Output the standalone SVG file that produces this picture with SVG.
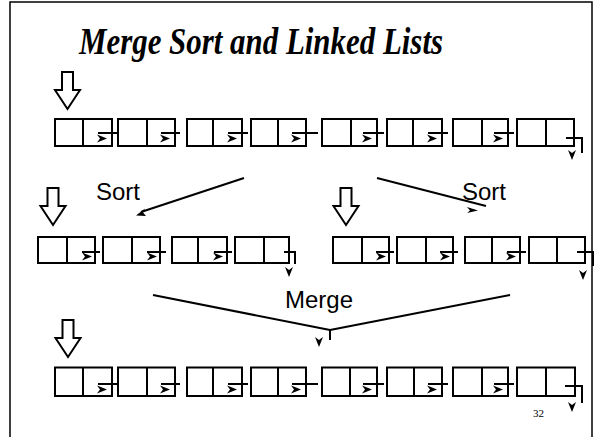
<svg xmlns="http://www.w3.org/2000/svg" xmlns:xlink="http://www.w3.org/1999/xlink" width="597" height="437" viewBox="0 0 597 437">
  <style>
    .frame { fill: none; stroke: #000; stroke-width: 1.5; }
    .box { fill: #fff; stroke: #000; stroke-width: 2; }
    .div { stroke: #000; stroke-width: 2; }
    .wire { fill: none; stroke: #000; stroke-width: 2; }
    .flow { fill: none; stroke: #000; stroke-width: 2; }
    .head { fill: #000; stroke: none; }
    .block { fill: #fff; stroke: #000; stroke-width: 2; stroke-linejoin: miter; }
    .title { font-family: "Liberation Serif", "Times New Roman", serif; font-size: 37px; font-weight: bold; font-style: italic; fill: #000; }
    .label { font-family: "Liberation Sans", Arial, sans-serif; font-size: 24px; fill: #000; }
    .page { font-family: "Liberation Serif", "Times New Roman", serif; font-size: 11px; fill: #000; }
  </style>
  <defs>
    <!-- small filled dart pointing right (tip at x=10) -->
    <path id="dartR" d="M0,0 L10,4 L0,8 L3,4 Z"/>
    <!-- small filled dart pointing down (tip at y=10) -->
    <path id="dartD" d="M0,0 L4,3 L8,0 L4,10 Z"/>
    <!-- hollow block arrow pointing down -->
    <path id="blockDown" d="M-5.5,0 L5.5,0 L5.5,18 L12.5,18 L0,37 L-12.5,18 L-5.5,18 Z"/>
  </defs>

  <!-- slide frame -->
  <rect class="frame" x="10" y="2" width="582" height="450"/>

  <text class="title" x="79" y="54" textLength="364" lengthAdjust="spacingAndGlyphs">Merge Sort and Linked Lists</text>

  <!-- head pointers -->
  <g id="head-top"><use href="#blockDown" class="block" x="67.5" y="72"/></g>
  <g id="head-left"><use href="#blockDown" class="block" x="53" y="188"/></g>
  <g id="head-right"><use href="#blockDown" class="block" x="346" y="188"/></g>
  <g id="head-merged"><use href="#blockDown" class="block" x="68" y="320"/></g>

  <!-- unsorted list -->
  <g id="list-a">
    <g id="a1"><rect class="box" x="55" y="119" width="57" height="27"/><line class="div" x1="83" y1="119" x2="83" y2="146"/></g>
    <g id="a2"><rect class="box" x="118" y="119" width="57" height="27"/><line class="div" x1="147" y1="119" x2="147" y2="146"/></g>
    <g id="a3"><rect class="box" x="187" y="119" width="55" height="27"/><line class="div" x1="213" y1="119" x2="213" y2="146"/></g>
    <g id="a4"><rect class="box" x="251" y="119" width="55" height="27"/><line class="div" x1="278" y1="119" x2="278" y2="146"/></g>
    <g id="a5"><rect class="box" x="322" y="119" width="55" height="27"/><line class="div" x1="351" y1="119" x2="351" y2="146"/></g>
    <g id="a6"><rect class="box" x="387" y="119" width="55" height="27"/><line class="div" x1="413" y1="119" x2="413" y2="146"/></g>
    <g id="a7"><rect class="box" x="453" y="119" width="55" height="27"/><line class="div" x1="482" y1="119" x2="482" y2="146"/></g>
    <g id="a8"><rect class="box" x="517" y="119" width="57" height="27"/><line class="div" x1="546" y1="119" x2="546" y2="146"/></g>
  </g>

  <!-- sorted halves -->
  <g id="list-b">
    <g id="b1"><rect class="box" x="38" y="237" width="57" height="26"/><line class="div" x1="67" y1="237" x2="67" y2="263"/></g>
    <g id="b2"><rect class="box" x="103" y="237" width="57" height="26"/><line class="div" x1="132" y1="237" x2="132" y2="263"/></g>
    <g id="b3"><rect class="box" x="172" y="237" width="55" height="26"/><line class="div" x1="198" y1="237" x2="198" y2="263"/></g>
    <g id="b4"><rect class="box" x="235" y="237" width="54" height="26"/><line class="div" x1="264" y1="237" x2="264" y2="263"/></g>
  </g>
  <g id="list-c">
    <g id="c1"><rect class="box" x="333" y="237" width="56" height="26"/><line class="div" x1="362" y1="237" x2="362" y2="263"/></g>
    <g id="c2"><rect class="box" x="397" y="237" width="56" height="26"/><line class="div" x1="426" y1="237" x2="426" y2="263"/></g>
    <g id="c3"><rect class="box" x="465" y="237" width="55" height="26"/><line class="div" x1="492" y1="237" x2="492" y2="263"/></g>
    <g id="c4"><rect class="box" x="529" y="237" width="56" height="26"/><line class="div" x1="557" y1="237" x2="557" y2="263"/></g>
  </g>

  <!-- merged list -->
  <g id="list-d">
    <g id="d1"><rect class="box" x="55" y="367.5" width="57" height="28.5"/><line class="div" x1="83" y1="367.5" x2="83" y2="396"/></g>
    <g id="d2"><rect class="box" x="118" y="367.5" width="57" height="28.5"/><line class="div" x1="147" y1="367.5" x2="147" y2="396"/></g>
    <g id="d3"><rect class="box" x="187" y="367.5" width="55" height="28.5"/><line class="div" x1="213" y1="367.5" x2="213" y2="396"/></g>
    <g id="d4"><rect class="box" x="251" y="367.5" width="55" height="28.5"/><line class="div" x1="278" y1="367.5" x2="278" y2="396"/></g>
    <g id="d5"><rect class="box" x="322" y="367.5" width="55" height="28.5"/><line class="div" x1="350" y1="367.5" x2="350" y2="396"/></g>
    <g id="d6"><rect class="box" x="387" y="367.5" width="55" height="28.5"/><line class="div" x1="414" y1="367.5" x2="414" y2="396"/></g>
    <g id="d7"><rect class="box" x="453" y="367.5" width="55" height="28.5"/><line class="div" x1="482" y1="367.5" x2="482" y2="396"/></g>
    <g id="d8"><rect class="box" x="517" y="367.5" width="58" height="28.5"/><line class="div" x1="546" y1="367.5" x2="546" y2="396"/></g>
  </g>

  <g id="connectors">
    <!-- next pointers, unsorted list -->
    <path class="wire" d="M98,133H117 M161,133H180 M228,133H248 M292,133H318 M363,133H384 M428,133H448 M494,133H514 M566,138H582V153"/>
    <use href="#dartR" class="head" x="97" y="134.5"/>
    <use href="#dartR" class="head" x="160" y="134.5"/>
    <use href="#dartR" class="head" x="227" y="134.5"/>
    <use href="#dartR" class="head" x="291" y="134.5"/>
    <use href="#dartR" class="head" x="362" y="134.5"/>
    <use href="#dartR" class="head" x="427" y="134.5"/>
    <use href="#dartR" class="head" x="493" y="134.5"/>
    <use href="#dartD" class="head" x="568" y="150"/>

    <!-- next pointers, left half -->
    <path class="wire" d="M82,252H100 M147,252H166 M214,252H232 M284,252H295V264"/>
    <use href="#dartR" class="head" x="82" y="252.5"/>
    <use href="#dartR" class="head" x="147" y="252.5"/>
    <use href="#dartR" class="head" x="213" y="252.5"/>
    <use href="#dartD" class="head" x="285" y="267"/>

    <!-- next pointers, right half -->
    <path class="wire" d="M376,252H394 M440,252H458 M507,252H526 M577,252H593V266"/>
    <use href="#dartR" class="head" x="376" y="252.5"/>
    <use href="#dartR" class="head" x="440" y="252.5"/>
    <use href="#dartR" class="head" x="506" y="252.5"/>
    <use href="#dartD" class="head" x="579" y="270"/>

    <!-- next pointers, merged list -->
    <path class="wire" d="M98,384H117 M161,384H180 M228,384H248 M292,384H318 M363,384H384 M428,384H448 M494,384H514 M565,386H582V403"/>
    <use href="#dartR" class="head" x="97" y="385.5"/>
    <use href="#dartR" class="head" x="160" y="385.5"/>
    <use href="#dartR" class="head" x="227" y="385.5"/>
    <use href="#dartR" class="head" x="291" y="385.5"/>
    <use href="#dartR" class="head" x="362" y="385.5"/>
    <use href="#dartR" class="head" x="427" y="385.5"/>
    <use href="#dartR" class="head" x="493" y="385.5"/>
    <use href="#dartD" class="head" x="568" y="402"/>

    <!-- split arrows -->
    <line class="flow" x1="244" y1="178" x2="141" y2="212"/>
    <path class="head" d="M136,215.5 L145,208.5 L143,212.5 L146,216 Z"/>
    <line class="flow" x1="377" y1="178" x2="486" y2="206"/>
    <path class="head" d="M467,207 L478,210.5 L467,213 L470,210.5 Z"/>

    <!-- merge arrows -->
    <line class="flow" x1="153" y1="295" x2="330" y2="330"/>
    <line class="flow" x1="510" y1="295" x2="330" y2="330"/>
    <line class="flow" x1="330" y1="329" x2="330" y2="340"/>
    <use href="#dartD" class="head" x="315" y="337"/>
  </g>

  <text class="label" x="96" y="200">Sort</text>
  <text class="label" x="462" y="200">Sort</text>
  <text class="label" x="285" y="308">Merge</text>
  <text class="page" x="533" y="417">32</text>
</svg>
